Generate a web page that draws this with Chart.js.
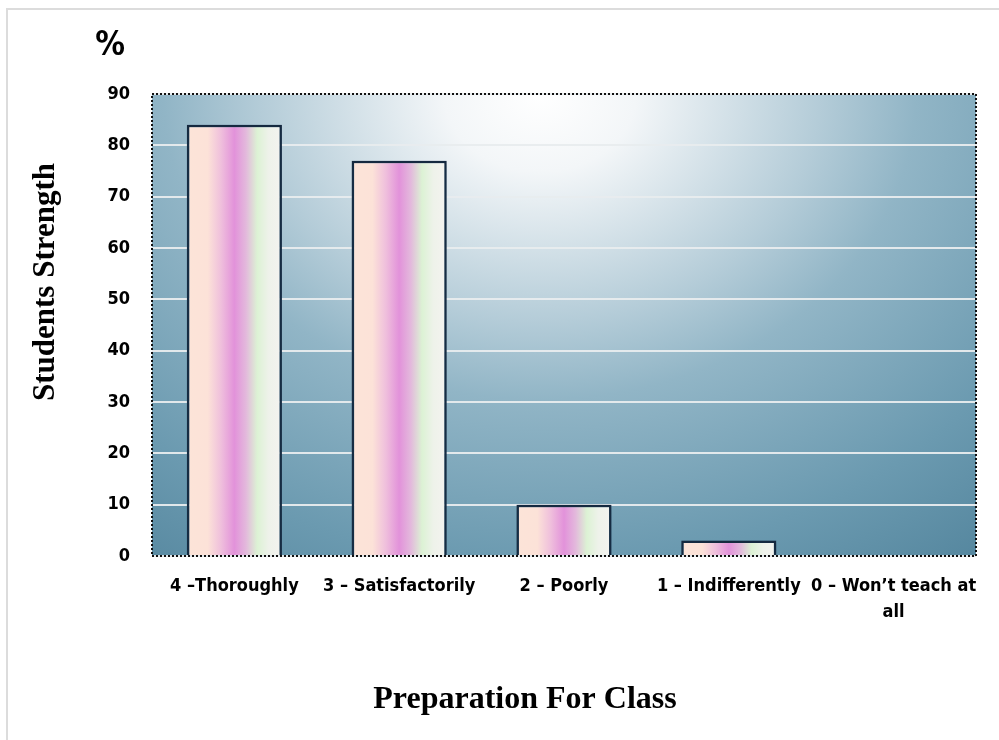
<!DOCTYPE html>
<html>
<head>
<meta charset="utf-8">
<script src="https://cdn.jsdelivr.net/npm/chart.js@4"></script>
<style>
  html, body { margin: 0; padding: 0; background: #fff; }
  #wrap { width: 999px; height: 740px; }
</style>
</head>
<body>
<div id="wrap"><canvas id="prepChart" width="999" height="740"></canvas></div>
<script>
// data
var categories = ['4 –Thoroughly', '3 – Satisfactorily', '2 – Poorly', '1 – Indifferently', ["0 – Won’t teach at", 'all']];
var studentsPct = [84, 77, 10, 3, 0];
var yTicks = [0, 10, 20, 30, 40, 50, 60, 70, 80, 90];

var tickFont = "'Liberation Sans Narrow', 'DejaVu Sans Condensed', 'Liberation Sans', Arial, sans-serif";
var serifFont = "'Liberation Serif', 'Times New Roman', serif";

// striped fill for each bar (peach -> magenta -> green -> white)
function barFill(context) {
  var chart = context.chart;
  if (!chart.chartArea) return '#f0c0e0';
  var xs = chart.scales.x;
  var cx = xs.getPixelForValue(context.dataIndex);
  var half = (xs.width / categories.length) * 0.577 / 2;
  var g = chart.ctx.createLinearGradient(cx - half, 0, cx + half, 0);
  g.addColorStop(0, '#fce4d8');
  g.addColorStop(0.22, '#fce2d8');
  g.addColorStop(0.36, '#efbfdc');
  g.addColorStop(0.5, '#e292da');
  g.addColorStop(0.62, '#e3b8dc');
  g.addColorStop(0.74, '#dcf2d4');
  g.addColorStop(0.86, '#eef2ea');
  g.addColorStop(1, '#f4f3f0');
  return g;
}

var decor = {
  id: 'decor',
  beforeDraw: function(chart) {
    var ctx = chart.ctx, a = chart.chartArea;
    ctx.save();
    // page frame
    ctx.strokeStyle = '#dcdcdc';
    ctx.lineWidth = 2;
    ctx.strokeRect(7, 9, 1010, 800);
    // plot background, elliptical glow near the top
    var cx = 540, sx = 800 / 650;
    ctx.translate(cx, a.top);
    ctx.scale(sx, 1);
    var g = ctx.createRadialGradient(0, 0, 0, 0, 0, 650);
    g.addColorStop(0, '#ffffff');
    g.addColorStop(0.12, '#f3f6f8');
    g.addColorStop(0.35, '#b4ccd8');
    g.addColorStop(0.47, '#91b5c6');
    g.addColorStop(0.72, '#6b9ab0');
    g.addColorStop(1, '#497c95');
    ctx.fillStyle = g;
    ctx.fillRect((a.left - cx) / sx, 0, (a.right - a.left) / sx, a.bottom - a.top);
    ctx.restore();
  },
  beforeDatasetsDraw: function(chart) {
    var ctx = chart.ctx;
    ctx.save();
    ctx.shadowColor = 'rgba(25,65,90,0.6)';
    ctx.shadowBlur = 6;
    ctx.shadowOffsetX = 0;
    ctx.shadowOffsetY = 2;
  },
  afterDatasetsDraw: function(chart) {
    chart.ctx.restore();
  },
  afterDraw: function(chart) {
    var ctx = chart.ctx, a = chart.chartArea;
    ctx.save();
    // dotted plot border
    ctx.strokeStyle = '#111';
    ctx.lineWidth = 2;
    ctx.setLineDash([2, 2]);
    ctx.strokeRect(a.left, a.top, a.right - a.left, a.bottom - a.top);
    ctx.setLineDash([]);
    // titles
    ctx.fillStyle = '#000';
    ctx.textAlign = 'center';
    ctx.textBaseline = 'middle';
    ctx.font = "bold 33px " + tickFont;
    ctx.fillText('%', 110, 46);
    ctx.font = "bold 32px " + serifFont;
    ctx.fillText('Preparation For Class', 525, 700);
    ctx.translate(46, 282);
    ctx.rotate(-Math.PI / 2);
    ctx.font = "bold 31px " + serifFont;
    ctx.fillText('Students Strength', 0, 0);
    ctx.restore();
  }
};

var ctx = document.getElementById('prepChart').getContext('2d');
var prepChart = new Chart(ctx, {
  type: 'bar',
  data: {
    labels: categories,
    datasets: [{
      label: 'Students Strength',
      data: studentsPct,
      backgroundColor: barFill,
      borderColor: '#15273d',
      borderWidth: 2.5,
      barPercentage: 0.577,
      categoryPercentage: 1
    }]
  },
  options: {
    responsive: false,
    animation: false,
    layout: { padding: { top: 94, right: 23, left: 0, bottom: 0 } },
    plugins: {
      legend: { display: false },
      tooltip: { enabled: false }
    },
    scales: {
      x: {
        afterFit: function(s) { s.height = 184; },
        grid: { display: false, drawTicks: false },
        border: { display: false },
        ticks: {
          color: '#000',
          padding: 17,
          maxRotation: 0,
          autoSkip: false,
          font: { family: tickFont, size: 18, weight: 'bold', lineHeight: 1.45 }
        }
      },
      y: {
        min: 0,
        max: 90,
        afterFit: function(s) { s.width = 152; },
        afterBuildTicks: function(s) { s.ticks = yTicks.map(function(v) { return { value: v }; }); },
        grid: { color: 'rgba(232,236,238,0.95)', lineWidth: 2, drawTicks: false },
        border: { display: false },
        ticks: {
          color: '#000',
          padding: 22,
          font: { family: tickFont, size: 18, weight: 'bold' }
        }
      }
    }
  },
  plugins: [decor]
});
</script>
</body>
</html>
